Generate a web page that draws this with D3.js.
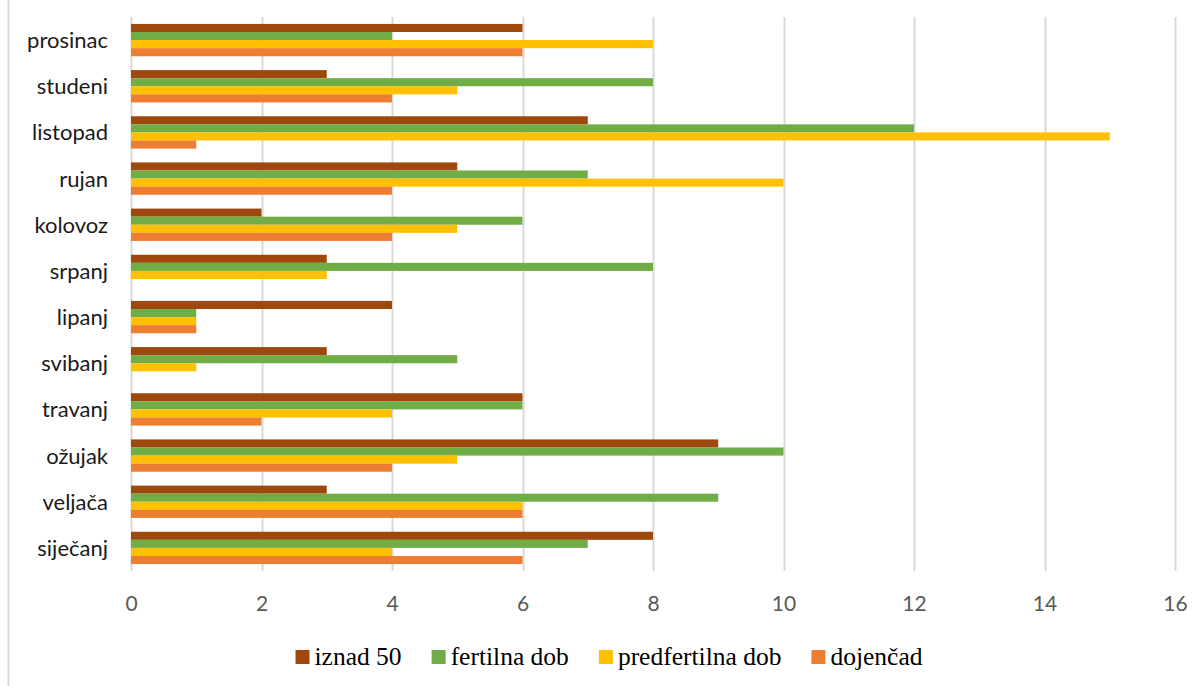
<!DOCTYPE html>
<html>
<head>
<meta charset="utf-8">
<script src="https://cdn.jsdelivr.net/npm/d3@7"></script>
<style>
  html, body { margin: 0; padding: 0; background: #fff; }
  svg { display: block; }
</style>
</head>
<body>
<svg id="chart" width="1203" height="686"></svg>
<script>
// ---- data ----
const months = ["prosinac", "studeni", "listopad", "rujan", "kolovoz", "srpanj",
                "lipanj", "svibanj", "travanj", "ožujak", "veljača", "siječanj"];
const seriesNames = ["iznad 50", "fertilna dob", "predfertilna dob", "dojenčad"];
const iznad50      = [6, 3, 7, 5, 2, 3, 4, 3, 6, 9, 3, 8];
const fertilnaDob  = [4, 8, 12, 7, 6, 8, 1, 5, 6, 10, 9, 7];
const predfertilna = [8, 5, 15, 10, 5, 3, 1, 1, 4, 5, 6, 4];
const dojencad     = [6, 4, 1, 4, 4, 0, 1, 0, 2, 4, 6, 6];
const xTicks = [0, 2, 4, 6, 8, 10, 12, 14, 16];
const colors = ["#9E480E", "#70AD47", "#FFC000", "#ED7D31"];

const seriesValues = [iznad50, fertilnaDob, predfertilna, dojencad];

// ---- layout ----
const svg = d3.select("#chart");
const plot = { left: 131, right: 1175, top: 17, bottom: 571 };

const x = d3.scaleLinear().domain([0, 16]).range([plot.left, plot.right]);
const y0 = d3.scaleBand().domain(months).range([plot.top, plot.bottom])
  .paddingInner(0.3).paddingOuter(0.15);
const y1 = d3.scaleBand().domain(seriesNames).range([0, y0.bandwidth()]);

// outer border (left side)
svg.append("line").attr("x1", 8.5).attr("x2", 8.5).attr("y1", 0).attr("y2", 686)
  .attr("stroke", "#d9d9d9").attr("stroke-width", 2);

// gridlines
svg.append("g").selectAll("line").data(xTicks).join("line")
  .attr("x1", d => Math.round(x(d)) + 0.5).attr("x2", d => Math.round(x(d)) + 0.5)
  .attr("y1", plot.top).attr("y2", plot.bottom)
  .attr("stroke", "#d9d9d9").attr("stroke-width", 2);

// bars
const groups = svg.append("g").selectAll("g").data(months).join("g")
  .attr("transform", d => `translate(0,${y0(d)})`);
groups.selectAll("rect")
  .data((m, i) => seriesNames.map((s, j) => ({ s, j, v: seriesValues[j][i] })))
  .join("rect")
  .attr("x", x(0))
  .attr("y", d => y1(d.s))
  .attr("width", d => x(d.v) - x(0))
  .attr("height", y1.bandwidth())
  .attr("fill", d => colors[d.j]);

// x axis tick labels
const xAxis = d3.axisBottom(x).tickValues(xTicks).tickSize(0).tickPadding(0);
const gx = svg.append("g").attr("transform", `translate(0,${plot.bottom})`).call(xAxis);
gx.select(".domain").remove();
gx.selectAll("text")
  .attr("dy", null).attr("y", 40)
  .attr("font-family", "Lato, sans-serif").attr("font-size", 21)
  .attr("fill", "#595959");

// y axis category labels
const yAxis = d3.axisLeft(y0).tickSize(0).tickPadding(0);
const gy = svg.append("g").attr("transform", `translate(108,0)`).call(yAxis);
gy.select(".domain").remove();
gy.selectAll("text")
  .attr("dy", null).attr("y", 8).attr("x", 0)
  .attr("font-family", "Lato, sans-serif").attr("font-size", 22)
  .attr("fill", "#1a1a1a");

// legend
const legend = svg.append("g").attr("class", "legend");
const items = legend.selectAll("g").data(seriesNames).join("g");
items.append("rect").attr("width", 14).attr("height", 14).attr("y", 650)
  .attr("fill", (d, i) => colors[i]);
items.append("text").text(d => d).attr("x", 19).attr("y", 665)
  .style("font-family", '"Liberation Serif", "Times New Roman", serif')
  .style("font-size", "25.5px").attr("fill", "#000");
const widths = [];
items.each(function () {
  const w = 19 + d3.select(this).select("text").node().getComputedTextLength();
  widths.push(w);
});
const gap = 30;
const total = d3.sum(widths) + gap * (widths.length - 1);
let startX = 609 - total / 2;
items.attr("transform", (d, i) => {
  const tx = startX;
  startX += widths[i] + gap;
  return `translate(${tx},0)`;
});
</script>
</body>
</html>
